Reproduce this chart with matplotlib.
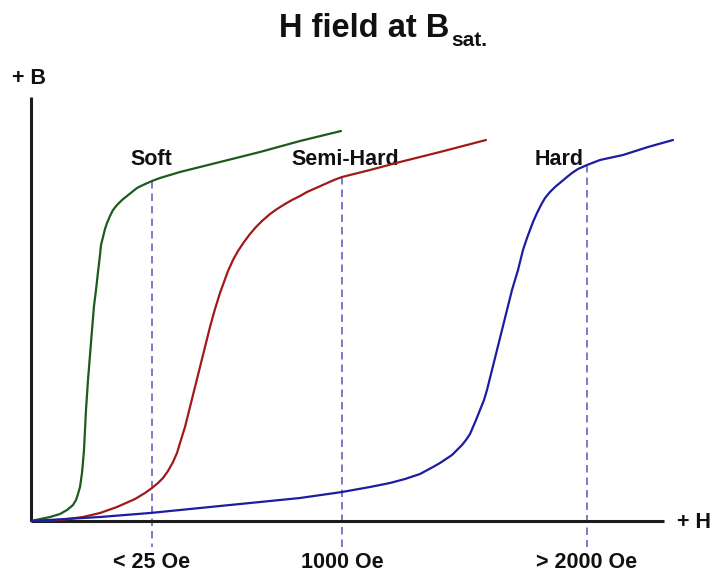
import matplotlib
matplotlib.use("Agg")
import matplotlib.pyplot as plt

plt.rcParams['font.family'] = ['Liberation Sans', 'DejaVu Sans']

# Magnetisation curves, H and B in arbitrary drawing units from the origin
soft_h = [0, 19, 29, 36, 42, 45, 47, 49, 50, 51, 52, 53, 54, 55, 57, 59, 61, 63, 65,
          67, 69, 70, 72, 74, 76, 79, 82, 86, 91, 96, 101, 106, 112, 121, 129,
          149, 189, 229, 269, 310]
soft_b = [0, 4, 7, 11, 16, 21, 27, 34, 41, 48, 59, 71, 91, 111, 141, 166, 191, 215,
          231, 249, 266, 276, 284, 292, 298, 305, 311, 316, 321, 325, 329, 333,
          336, 340, 343, 349, 359, 369, 380, 390]

semi_h = [0, 29, 52, 69, 86, 104, 114, 121, 127, 132, 137, 142, 146, 149, 154, 159,
          164, 169, 174, 179, 184, 189, 193, 197, 202, 207, 213, 219, 225, 231, 239,
          246, 254, 261, 269, 276, 285, 294, 303, 311, 339, 369, 409, 455]
semi_b = [0, 1, 4, 8, 14, 22, 28, 33, 38, 43, 50, 59, 68, 78, 94, 114, 134, 154, 174,
          194, 212, 228, 239, 250, 261, 270, 279, 287, 294, 300, 307, 312, 317, 321,
          325, 329, 333, 337, 341, 344, 351, 359, 369, 381]

hard_h = [0, 69, 119, 169, 219, 269, 311, 339, 359, 374, 389, 402, 409, 415, 421,
          426, 431, 435, 439, 442, 445, 449, 453, 456, 461, 466, 471, 476, 481, 487,
          492, 496, 499, 502, 506, 510, 514, 519, 524, 530, 536, 541, 547, 556, 569,
          592, 617, 642]
hard_b = [0, 4, 8, 13, 18, 23, 29, 34, 38, 42, 47, 54, 58, 62, 66, 71, 76, 81, 87,
          94, 101, 111, 121, 131, 151, 171, 191, 211, 231, 251, 271, 283, 291, 299,
          308, 316, 323, 329, 334, 339, 344, 348, 352, 356, 361, 366, 374, 381]

# Saturation field markers: H position, B where it meets the curve
marker_h = [121, 311, 556]
marker_b = [340, 344, 356]
marker_text = ["< 25 Oe", "1000 Oe", "> 2000 Oe"]
class_names = ["Soft", "Semi-Hard", "Hard"]
class_h = [120, 314, 528]

fig = plt.figure(figsize=(7.15, 5.75), dpi=100)
ax = fig.add_axes([0, 0, 1, 1])
ax.set_xlim(-31, 684)
ax.set_ylim(-54, 521)
ax.axis("off")

# axes of the B-H plane
ax.plot([0, 0], [0, 424], color="#1c1c1c", lw=2.2, solid_capstyle="butt", zorder=3)
ax.plot([0, 633], [0, 0], color="#1c1c1c", lw=2.2, solid_capstyle="butt", zorder=3)

curve = dict(lw=1.6, zorder=4, solid_joinstyle="round", solid_capstyle="round")
ax.plot(soft_h, soft_b, color="#1e5a1e", **curve)
ax.plot(semi_h, semi_b, color="#a01a1a", **curve)
ax.plot(hard_h, hard_b, color="#1c1ca0", **curve)

for h, b in zip(marker_h, marker_b):
    ax.plot([h, h], [b, -26], color="#6464c4", lw=1.2, dashes=(4.5, 3),
            zorder=2)

lab = dict(fontsize=15.5, fontweight="bold", color="#111111")
for h, t in zip(marker_h, marker_text):
    ax.text(h, -47, t, ha="center", va="baseline", **lab)
for h, t in zip(class_h, class_names):
    ax.text(h, 356, t, ha="center", va="baseline", **lab)

ax.text(-19, 437, "+ B", ha="left", va="baseline", **lab)
ax.text(646, -7, "+ H", ha="left", va="baseline", **lab)

# title with subscript
fig.text(279 / 715, 1 - 37 / 575, "H field at B", fontsize=23.5, fontweight="bold",
         color="#111111", ha="left", va="baseline")
fig.text(451 / 715, 1 - 46 / 575, "sat.", fontsize=15, fontweight="bold",
         color="#111111", ha="left", va="baseline")

fig.savefig("out.png", dpi=100)
